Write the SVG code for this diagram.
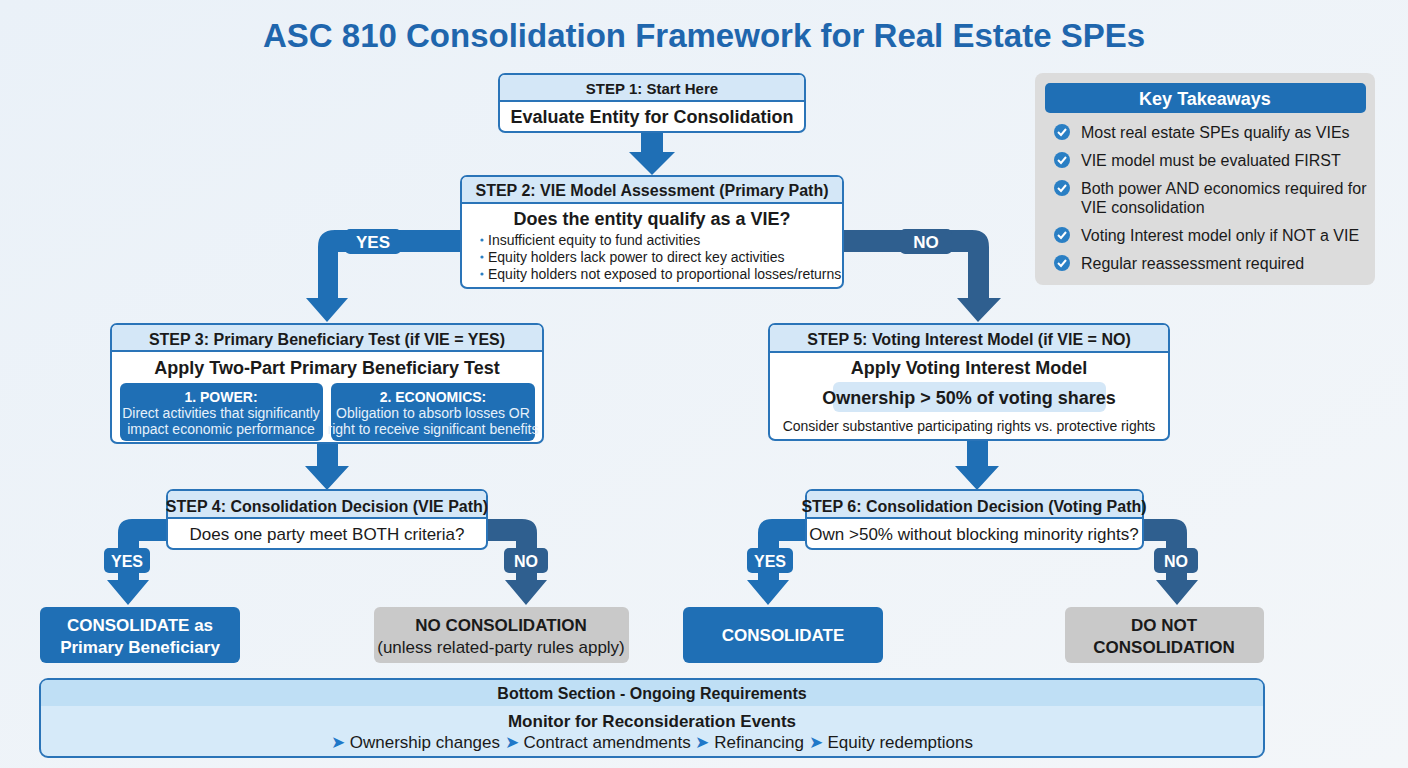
<svg xmlns="http://www.w3.org/2000/svg" width="1408" height="768" viewBox="0 0 1408 768">
<defs>
<linearGradient id="bg" x1="0" y1="0" x2="1" y2="1"><stop offset="0" stop-color="#eaf1f8"/><stop offset="1" stop-color="#f3f6f9"/></linearGradient>
<style>
text{font-family:"Liberation Sans Narrow","Liberation Sans",Arial,sans-serif;fill:#1a1a1a}
.b{font-weight:bold}
.c{text-anchor:middle}
.box{fill:#fff;stroke:#2a74b8;stroke-width:2}
.hd{fill:#d4e7f7}
.hl{stroke:#2a74b8;stroke-width:2}
.w{fill:#fff}
.blue{fill:#1f6fb5}
.dark{fill:#2f5f8f}
.ck{fill:#2a7fc4}
</style>
</defs>
<rect width="1408" height="768" fill="url(#bg)"/>
<text x="704" y="47" class="b c" font-size="33" style="fill:#1f66ad;font-family:'Liberation Sans',Arial,sans-serif">ASC 810 Consolidation Framework for Real Estate SPEs</text>

<g id="connectors">
<polygon class="blue" points="641,132 663,132 663,152 675,152 652,175 629,152 641,152"/>
<path class="blue" d="M461,230 H335 Q318,230 318,247 V298 H306 L327,322 L348,298 H338 V252 H461 Z"/>
<rect class="blue" x="345" y="229" width="56" height="25" rx="5"/>
<text x="373" y="248" class="b c w" font-size="17" style="fill:#fff">YES</text>
<path class="dark" d="M843,230 H972 Q989,230 989,247 V298 H1001 L978,322 L957,298 H968 V252 H843 Z"/>
<rect class="dark" x="900" y="229" width="52" height="25" rx="5"/>
<text x="926" y="248" class="b c" font-size="17" style="fill:#fff">NO</text>
<polygon class="blue" points="317,443 338,443 338,466 349,466 327,490 305,466 317,466"/>
<polygon class="blue" points="967,440 988,440 988,466 999,466 977,490 955,466 967,466"/>
<path class="blue" d="M167,519 H132 Q118,519 118,533 V580 H107 L128,605 L149,580 H139 V541 H167 Z"/>
<rect class="blue" x="104" y="548" width="46" height="25" rx="5"/>
<text x="127" y="567" class="b c" font-size="16" style="fill:#fff">YES</text>
<path class="dark" d="M487,519 H522 Q537,519 537,533 V580 H547 L526,605 L505,580 H516 V541 H487 Z"/>
<rect class="dark" x="504" y="548" width="44" height="25" rx="5"/>
<text x="526" y="567" class="b c" font-size="16" style="fill:#fff">NO</text>
<path class="blue" d="M806,519 H772 Q758,519 758,533 V580 H747 L768,605 L789,580 H779 V541 H806 Z"/>
<rect class="blue" x="747" y="548" width="46" height="25" rx="5"/>
<text x="770" y="567" class="b c" font-size="16" style="fill:#fff">YES</text>
<path class="dark" d="M1143,519 H1173 Q1187,519 1187,533 V580 H1198 L1177,605 L1156,580 H1166 V541 H1143 Z"/>
<rect class="dark" x="1154" y="548" width="44" height="25" rx="5"/>
<text x="1176" y="567" class="b c" font-size="16" style="fill:#fff">NO</text>
</g>

<g id="step1">
<rect class="box" x="499" y="74" width="306" height="58" rx="6"/>
<path class="hd" d="M500,101 V80 Q500,75 505,75 H799 Q804,75 804,80 V101 Z"/>
<line class="hl" x1="499" y1="101" x2="805" y2="101"/>
<text x="652" y="94" class="b c" font-size="15">STEP 1: Start Here</text>
<text x="652" y="123" class="b c" font-size="18">Evaluate Entity for Consolidation</text>
</g>

<g id="step2">
<rect class="box" x="461" y="176" width="382" height="112" rx="6"/>
<path class="hd" d="M462,203 V182 Q462,177 467,177 H837 Q842,177 842,182 V203 Z"/>
<line class="hl" x1="461" y1="203" x2="843" y2="203"/>
<text x="652" y="196" class="b c" font-size="16">STEP 2: VIE Model Assessment (Primary Path)</text>
<text x="652" y="225" class="b c" font-size="18">Does the entity qualify as a VIE?</text>
<g font-size="14"><circle class="ck" cx="482" cy="240" r="1.6"/><text x="488" y="245">Insufficient equity to fund activities</text>
<circle class="ck" cx="482" cy="257" r="1.6"/><text x="488" y="262">Equity holders lack power to direct key activities</text>
<circle class="ck" cx="482" cy="274" r="1.6"/><text x="488" y="279">Equity holders not exposed to proportional losses/returns</text></g>
</g>

<g id="step3">
<rect class="box" x="111" y="324" width="432" height="119" rx="6"/>
<path class="hd" d="M112,351 V330 Q112,325 117,325 H537 Q542,325 542,330 V351 Z"/>
<line class="hl" x1="111" y1="351" x2="543" y2="351"/>
<text x="327" y="345" class="b c" font-size="16">STEP 3: Primary Beneficiary Test (if VIE = YES)</text>
<text x="327" y="374" class="b c" font-size="18">Apply Two-Part Primary Beneficiary Test</text>
<rect class="blue" x="120" y="383" width="203" height="58" rx="6"/>
<text x="221" y="402" class="b c" font-size="14" style="fill:#fff">1. POWER:</text>
<text x="221" y="418" class="c" font-size="14" style="fill:#e6f1fb">Direct activities that significantly</text>
<text x="221" y="434" class="c" font-size="14" style="fill:#e6f1fb">impact economic performance</text>
<rect class="blue" x="331" y="383" width="204" height="58" rx="6"/>
<text x="433" y="402" class="b c" font-size="14" style="fill:#fff">2. ECONOMICS:</text>
<text x="433" y="418" class="c" font-size="14" style="fill:#e6f1fb">Obligation to absorb losses OR</text>
<text x="433" y="434" class="c" font-size="14" style="fill:#e6f1fb">right to receive significant benefits</text>
</g>

<g id="step4">
<rect class="box" x="167" y="490" width="320" height="59" rx="6"/>
<path class="hd" d="M168,518 V496 Q168,491 173,491 H481 Q486,491 486,496 V518 Z"/>
<line class="hl" x1="167" y1="518" x2="487" y2="518"/>
<text x="327" y="512" class="b c" font-size="16">STEP 4: Consolidation Decision (VIE Path)</text>
<text x="327" y="540" class="c" font-size="17">Does one party meet BOTH criteria?</text>
</g>

<g id="step5">
<rect class="box" x="769" y="324" width="400" height="116" rx="6"/>
<path class="hd" d="M770,352 V330 Q770,325 775,325 H1163 Q1168,325 1168,330 V352 Z"/>
<line class="hl" x1="769" y1="352" x2="1169" y2="352"/>
<text x="969" y="345" class="b c" font-size="16">STEP 5: Voting Interest Model (if VIE = NO)</text>
<text x="969" y="374" class="b c" font-size="18">Apply Voting Interest Model</text>
<rect x="833" y="382" width="273" height="30" rx="6" fill="#d4e7f7"/>
<text x="969" y="404" class="b c" font-size="18">Ownership &gt; 50% of voting shares</text>
<text x="969" y="431" class="c" font-size="14">Consider substantive participating rights vs. protective rights</text>
</g>

<g id="step6">
<rect class="box" x="806" y="490" width="337" height="59" rx="6"/>
<path class="hd" d="M807,518 V496 Q807,491 812,491 H1137 Q1142,491 1142,496 V518 Z"/>
<line class="hl" x1="806" y1="518" x2="1143" y2="518"/>
<text x="974" y="512" class="b c" font-size="16">STEP 6: Consolidation Decision (Voting Path)</text>
<text x="974" y="540" class="c" font-size="17">Own &gt;50% without blocking minority rights?</text>
</g>

<g id="consolidate-pb">
<rect class="blue" x="40" y="607" width="200" height="56" rx="6"/>
<text x="140" y="631" class="b c" font-size="17" style="fill:#fff">CONSOLIDATE as</text>
<text x="140" y="653" class="b c" font-size="17" style="fill:#fff">Primary Beneficiary</text>
</g>
<g id="no-consolidation">
<rect x="374" y="607" width="255" height="56" rx="6" fill="#c9c9c9"/>
<text x="501" y="631" class="b c" font-size="17">NO CONSOLIDATION</text>
<text x="501" y="653" class="c" font-size="17">(unless related-party rules apply)</text>
</g>
<g id="consolidate">
<rect class="blue" x="683" y="607" width="200" height="56" rx="6"/>
<text x="783" y="641" class="b c" font-size="17" style="fill:#fff">CONSOLIDATE</text>
</g>
<g id="do-not-consolidate">
<rect x="1065" y="607" width="199" height="56" rx="6" fill="#c9c9c9"/>
<text x="1164" y="631" class="b c" font-size="17">DO NOT</text>
<text x="1164" y="653" class="b c" font-size="17">CONSOLIDATION</text>
</g>

<g id="bottom">
<rect x="40" y="679" width="1224" height="78" rx="8" fill="#d6eaf9" stroke="#2a74b8" stroke-width="2"/>
<path d="M41,706 V687 Q41,680 48,680 H1256 Q1263,680 1263,687 V706 Z" fill="#bfdff5"/>
<text x="652" y="699" class="b c" font-size="16">Bottom Section - Ongoing Requirements</text>
<text x="652" y="727" class="b c" font-size="17">Monitor for Reconsideration Events</text>
<text x="652" y="748" class="c" font-size="17"><tspan style="fill:#1f78c8">➤</tspan> Ownership changes  <tspan style="fill:#1f78c8">➤</tspan> Contract amendments  <tspan style="fill:#1f78c8">➤</tspan> Refinancing  <tspan style="fill:#1f78c8">➤</tspan> Equity redemptions</text>
</g>

<g id="takeaways">
<rect x="1035" y="73" width="340" height="212" rx="8" fill="#dcdcdc"/>
<rect class="blue" x="1045" y="83" width="321" height="30" rx="5"/>
<text x="1205" y="105" class="b c" font-size="18" style="fill:#fff">Key Takeaways</text>
<g font-size="16">
<circle class="ck" cx="1062" cy="132" r="8"/><path d="M1058,132 l3,3 5,-6" stroke="#fff" stroke-width="2" fill="none"/>
<text x="1081" y="138">Most real estate SPEs qualify as VIEs</text>
<circle class="ck" cx="1062" cy="160" r="8"/><path d="M1058,160 l3,3 5,-6" stroke="#fff" stroke-width="2" fill="none"/>
<text x="1081" y="166">VIE model must be evaluated FIRST</text>
<circle class="ck" cx="1062" cy="188" r="8"/><path d="M1058,188 l3,3 5,-6" stroke="#fff" stroke-width="2" fill="none"/>
<text x="1081" y="194">Both power AND economics required for</text>
<text x="1081" y="213">VIE consolidation</text>
<circle class="ck" cx="1062" cy="235" r="8"/><path d="M1058,235 l3,3 5,-6" stroke="#fff" stroke-width="2" fill="none"/>
<text x="1081" y="241">Voting Interest model only if NOT a VIE</text>
<circle class="ck" cx="1062" cy="263" r="8"/><path d="M1058,263 l3,3 5,-6" stroke="#fff" stroke-width="2" fill="none"/>
<text x="1081" y="269">Regular reassessment required</text>
</g>
</g>
</svg>
